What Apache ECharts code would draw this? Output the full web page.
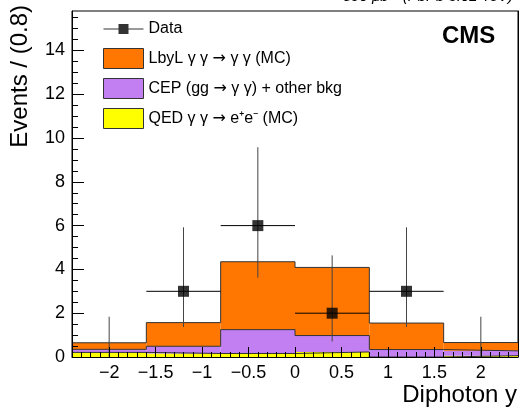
<!DOCTYPE html>
<html>
<head>
<meta charset="utf-8">
<script src="https://cdn.jsdelivr.net/npm/echarts@6/dist/echarts.min.js"></script>
<style>html,body{margin:0;padding:0;background:#fff}#c{width:521px;height:408px}</style>
</head>
<body>
<div id="c"></div>
<script>
// ---- data ----
const binEdges = [-2.4, -1.6, -0.8, 0.0, 0.8, 1.6, 2.4];
const qedValues  = [0.21, 0.16, 0.16, 0.23, 0.00, 0.06];
const cepValues  = [0.14, 0.33, 1.09, 0.75, 0.34, 0.22];
const lbylValues = [0.30, 1.08, 3.10, 3.11, 1.21, 0.38];
const dataX = [-2.0, -1.2, -0.4, 0.4, 1.2, 2.0];
const dataY = [0, 3, 6, 2, 3, 0];
const dataErrLow  = [0, 1.63, 2.38, 1.29, 1.63, 0];
const dataErrHigh = [1.84, 2.92, 3.58, 2.64, 2.92, 1.84];
const xTickLabels = [-2, -1.5, -1, -0.5, 0, 0.5, 1, 1.5, 2];
const yTickLabels = [0, 2, 4, 6, 8, 10, 12, 14];
const names = {
  data: 'Data',
  lbyl: 'LbyL γ γ → γ γ (MC)',
  cep: 'CEP (gg → γ γ) + other bkg',
  qed: 'QED γ γ → e⁺e⁻ (MC)'
};

const colors = { lbyl: '#ff7700', cep: '#c17ff2', qed: '#ffff00', line: '#333333' };
const FONT = '"Liberation Sans", Arial, Helvetica, sans-serif';

// stacked layers
const n = qedValues.length;
const qedTop = [], cepTop = [], lbylTop = [];
for (let i = 0; i < n; i++) {
  qedTop.push(qedValues[i]);
  cepTop.push(qedValues[i] + cepValues[i]);
  lbylTop.push(qedValues[i] + cepValues[i] + lbylValues[i]);
}
function layer(bottom, top) {
  const rows = [];
  for (let i = 0; i < n; i++) rows.push([binEdges[i], binEdges[i + 1], bottom ? bottom[i] : 0, top[i]]);
  return rows;
}
function outline(top) {
  const pts = [];
  for (let i = 0; i < n; i++) pts.push([binEdges[i], top[i]]);
  pts.push([binEdges[n], top[n - 1]]);
  return pts;
}
function histRender(color) {
  return function (params, api) {
    const p1 = api.coord([api.value(0), api.value(3)]);
    const p2 = api.coord([api.value(1), api.value(2)]);
    return { type: 'rect', shape: { x: p1[0], y: p1[1], width: p2[0] - p1[0], height: p2[1] - p1[1] }, style: { fill: color } };
  };
}
const minorX = [];
for (let i = -24; i <= 24; i++) minorX.push(i / 10);
const minorY = [];
for (let i = 0; i <= 31; i++) minorY.push(i * 0.5);

function fmt(v) {
  const s = String(Math.round(v * 10) / 10);
  return s.replace('-', '\u2212');
}

const errData = dataX.map((x, i) => [x, dataY[i], dataErrLow[i], dataErrHigh[i], binEdges[i], binEdges[i + 1]]);

const chart = echarts.init(document.getElementById('c'));
const option = {
  animation: false,
  backgroundColor: '#fff',
  textStyle: { fontFamily: FONT },
  grid: { left: 72, right: 3, top: 11, bottom: 51, show: true, borderColor: '#000', borderWidth: 1 },
  xAxis: [
    {
      type: 'value', min: -2.4, max: 2.4, z: 10,
      axisLine: { show: true, onZero: false, lineStyle: { color: '#000', width: 1 } },
      axisTick: { show: true, inside: true, length: 10, customValues: xTickLabels, lineStyle: { color: '#000' } },
      axisLabel: { show: true, customValues: xTickLabels, formatter: fmt, color: '#000', fontSize: 18, margin: 7, fontFamily: FONT },
      splitLine: { show: false }
    },
    {
      type: 'value', min: -2.4, max: 2.4, position: 'bottom', z: 10,
      axisLine: { show: false, onZero: false },
      axisTick: { show: true, inside: true, length: 5, customValues: minorX, lineStyle: { color: '#000' } },
      axisLabel: { show: false },
      splitLine: { show: false }
    }
  ],
  yAxis: [
    {
      type: 'value', min: 0, max: 15.8, z: 10,
      axisLine: { show: true, onZero: false, lineStyle: { color: '#000', width: 1 } },
      axisTick: { show: true, inside: true, length: 12, customValues: yTickLabels, lineStyle: { color: '#000' } },
      axisLabel: { show: true, customValues: yTickLabels, color: '#000', fontSize: 18, margin: 7, fontFamily: FONT },
      splitLine: { show: false }
    },
    {
      type: 'value', min: 0, max: 15.8, position: 'left', z: 10,
      axisLine: { show: false, onZero: false },
      axisTick: { show: true, inside: true, length: 6, customValues: minorY, lineStyle: { color: '#000' } },
      axisLabel: { show: false },
      splitLine: { show: false }
    },
    {
      type: 'value', min: 0, max: 15.8, position: 'right', z: 10,
      axisLine: { show: true, onZero: false, lineStyle: { color: '#000', width: 1 } },
      axisTick: { show: false }, axisLabel: { show: false }, splitLine: { show: false }
    }
  ],
  legend: {
    orient: 'vertical', left: 103, top: 19, itemWidth: 40, itemHeight: 20, itemGap: 9, padding: 0,
    selectedMode: false,
    formatter: function (name) { return name.split('→').join('{a|→}'); },
    textStyle: { color: '#000', fontSize: 16, lineHeight: 20, fontFamily: FONT,
      rich: { a: { fontSize: 16, lineHeight: 20, fontFamily: '"DejaVu Sans"', color: '#000' } } },
    data: [
      { name: names.data, icon: 'path://M0,9.5h40v1h-40z M15,5h10v10h-10z', itemStyle: { color: '#000', borderWidth: 0 } },
      { name: names.lbyl, icon: 'rect', itemStyle: { color: colors.lbyl, borderColor: colors.line, borderWidth: 1 } },
      { name: names.cep, icon: 'rect', itemStyle: { color: colors.cep, borderColor: colors.line, borderWidth: 1 } },
      { name: names.qed, icon: 'rect', itemStyle: { color: colors.qed, borderColor: colors.line, borderWidth: 1 } }
    ]
  },
  graphic: [
    { type: 'text', left: 442, top: 24, z: 20, style: { text: 'CMS', font: 'bold 24px ' + FONT, fill: '#000' } },
    { type: 'text', x: 20, y: 5, rotation: Math.PI / 2, z: 20, style: { text: 'Events / (0.8)', font: '24px ' + FONT, fill: '#000', align: 'right', verticalAlign: 'middle' } },
    { type: 'text', x: 517, y: 395, z: 20, style: { text: 'Diphoton y', font: '24px ' + FONT, fill: '#000', align: 'right', verticalAlign: 'middle' } },
    { type: 'text', x: 513, y: 4, z: 20, style: { text: '390 μb⁻¹ (PbPb 5.02 TeV)', font: 'italic 15px ' + FONT, fill: '#000', align: 'right', verticalAlign: 'bottom' } }
  ],
  series: [
    { name: names.qed, type: 'custom', z: 2, renderItem: histRender(colors.qed), itemStyle: { color: colors.qed },
      encode: { x: [0, 1], y: [2, 3] }, data: layer(null, qedTop) },
    { name: names.cep, type: 'custom', z: 2, renderItem: histRender(colors.cep), itemStyle: { color: colors.cep },
      encode: { x: [0, 1], y: [2, 3] }, data: layer(qedTop, cepTop) },
    { name: names.lbyl, type: 'custom', z: 2, renderItem: histRender(colors.lbyl), itemStyle: { color: colors.lbyl },
      encode: { x: [0, 1], y: [2, 3] }, data: layer(cepTop, lbylTop) },
    { name: 'qedOutline', type: 'line', step: 'end', z: 3, symbol: 'none', silent: true,
      lineStyle: { color: colors.line, width: 1 }, data: outline(qedTop) },
    { name: 'cepOutline', type: 'line', step: 'end', z: 3, symbol: 'none', silent: true,
      lineStyle: { color: colors.line, width: 1 }, data: outline(cepTop) },
    { name: 'lbylOutline', type: 'line', step: 'end', z: 3, symbol: 'none', silent: true,
      lineStyle: { color: colors.line, width: 1 }, data: outline(lbylTop) },
    { name: 'dataErrors', type: 'custom', z: 4, silent: true,
      encode: { x: 0, y: 1 },
      renderItem: function (params, api) {
        const x = api.value(0), y = api.value(1), lo = api.value(2), hi = api.value(3);
        const a = api.value(4), b = api.value(5);
        const pTop = api.coord([x, y + hi]);
        const pBot = api.coord([x, y - lo]);
        const children = [
          { type: 'line', shape: { x1: pTop[0], y1: pTop[1], x2: pBot[0], y2: pBot[1] }, style: { stroke: '#444', lineWidth: 1 } }
        ];
        if (y > 0) {
          const pl = api.coord([a, y]), pr = api.coord([b, y]);
          children.push({ type: 'line', shape: { x1: pl[0], y1: pl[1], x2: pr[0], y2: pr[1] }, style: { stroke: '#000', lineWidth: 1 } });
        }
        return { type: 'group', children: children };
      },
      data: errData },
    { name: names.data, type: 'scatter', z: 5, symbol: 'rect', itemStyle: { color: '#000' },
      symbolSize: function (v) { return v[1] > 0 ? 11 : 0; },
      data: dataX.map((x, i) => [x, dataY[i]]) }
  ]
};
chart.setOption(option);
</script>
</body>
</html>
